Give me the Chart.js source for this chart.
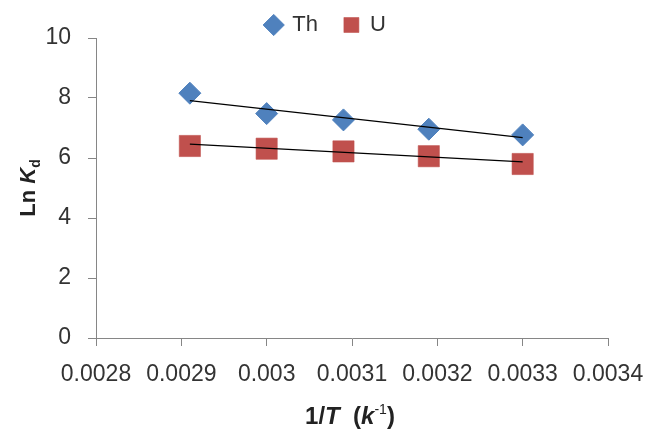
<!DOCTYPE html>
<html>
<head>
<meta charset="utf-8">
<script src="https://cdn.jsdelivr.net/npm/chart.js@4"></script>
<style>
  html, body { margin: 0; padding: 0; background: #fff; }
  #wrap { width: 646px; height: 434px; }
</style>
</head>
<body>
<div id="wrap"><canvas id="kd-chart" width="646" height="434"></canvas></div>
<script>
// 1/T values (K^-1) and Ln Kd
const invT = [0.00291, 0.003, 0.00309, 0.00319, 0.0033];
const thValues = [8.16, 7.48, 7.27, 6.96, 6.77];
const uValues = [6.40, 6.31, 6.22, 6.06, 5.80];

// linear trendline ends (first and last 1/T)
const trendX = [0.00291, 0.0033];
const thTrend = [7.91, 6.68];
const uTrend = [6.46, 5.87];

const yTicks = [0, 2, 4, 6, 8, 10];
const xTicks = [0.0028, 0.0029, 0.003, 0.0031, 0.0032, 0.0033, 0.0034];

const FONT = "'Liberation Sans', Arial, sans-serif";
const AXIS_GRAY = '#868686';

function pts(xs, ys) {
    return xs.map((x, i) => ({x: x, y: ys[i]}));
}

// axis titles need mixed bold / italic / sub and superscript
function drawRich(ctx, parts, cx, cy) {
    let total = 0;
    parts.forEach(p => { ctx.font = p.font; total += ctx.measureText(p.text).width; });
    let x = cx - total / 2;
    parts.forEach(p => {
        ctx.font = p.font;
        ctx.fillText(p.text, x, cy + (p.dy || 0));
        x += ctx.measureText(p.text).width;
    });
}

const axisTitles = {
    id: 'axisTitles',
    afterDraw(chart) {
        const ctx = chart.ctx;
        const area = chart.chartArea;
        ctx.save();
        ctx.fillStyle = '#222';
        ctx.textBaseline = 'alphabetic';
        ctx.textAlign = 'left';

        // y title: Ln K_d
        ctx.save();
        ctx.translate(35, (area.top + area.bottom) / 2);
        ctx.rotate(-Math.PI / 2);
        drawRich(ctx, [
            {text: 'Ln ', font: 'bold 22px ' + FONT},
            {text: 'K', font: 'italic bold 22px ' + FONT},
            {text: 'd', font: 'bold 14px ' + FONT, dy: 5}
        ], 0, 0);
        ctx.restore();

        // x title: 1/T (k^-1)
        drawRich(ctx, [
            {text: '1/', font: 'bold 24px ' + FONT},
            {text: 'T', font: 'italic bold 24px ' + FONT},
            {text: '  (', font: 'bold 24px ' + FONT},
            {text: 'k', font: 'italic bold 24px ' + FONT},
            {text: '-1', font: '14px ' + FONT, dy: -10},
            {text: ')', font: 'bold 24px ' + FONT}
        ], 350, 424);
        ctx.restore();
    }
};

const ctx = document.getElementById('kd-chart');
const myChart = new Chart(ctx, {
    type: 'scatter',
    data: {
        datasets: [
            {
                label: 'Th',
                data: pts(invT, thValues),
                pointStyle: 'rectRot',
                pointRadius: 11,
                pointHoverRadius: 11,
                backgroundColor: '#4F81BD',
                borderColor: '#4F81BD',
                borderWidth: 1,
                order: 2
            },
            {
                label: 'U',
                data: pts(invT, uValues),
                pointStyle: 'rect',
                pointRadius: 15,
                pointHoverRadius: 15,
                backgroundColor: '#C0504D',
                borderColor: 'rgba(192, 80, 77, 0.55)',
                borderWidth: 1,
                order: 2
            },
            {
                label: 'trend Th',
                type: 'line',
                data: pts(trendX, thTrend),
                borderColor: '#000',
                borderWidth: 1.3,
                pointRadius: 0,
                fill: false,
                order: 0
            },
            {
                label: 'trend U',
                type: 'line',
                data: pts(trendX, uTrend),
                borderColor: '#000',
                borderWidth: 1.3,
                pointRadius: 0,
                fill: false,
                order: 0
            }
        ]
    },
    options: {
        responsive: false,
        animation: false,
        layout: {
            padding: {top: -12, right: 38, bottom: 0, left: 44}
        },
        scales: {
            x: {
                type: 'linear',
                min: 0.0028,
                max: 0.0034,
                afterBuildTicks: scale => {
                    scale.ticks = xTicks.map(v => ({value: v}));
                },
                afterFit: scale => {
                    scale.height = 96;
                    scale.paddingLeft = 0;
                    scale.paddingRight = 0;
                },
                grid: {
                    drawOnChartArea: false,
                    tickLength: 8,
                    tickColor: AXIS_GRAY
                },
                border: {color: AXIS_GRAY, width: 1},
                ticks: {
                    color: '#333',
                    font: {family: FONT, size: 23},
                    padding: 15,
                    maxRotation: 0,
                    autoSkip: false,
                    callback: v => String(parseFloat(v.toFixed(4)))
                }
            },
            y: {
                min: 0,
                max: 10,
                afterBuildTicks: scale => {
                    scale.ticks = yTicks.map(v => ({value: v}));
                },
                afterFit: scale => { scale.width = 52; },
                grid: {
                    drawOnChartArea: false,
                    tickLength: 8,
                    tickColor: AXIS_GRAY
                },
                border: {color: AXIS_GRAY, width: 1},
                ticks: {
                    color: '#333',
                    font: {family: FONT, size: 23},
                    padding: 17
                }
            }
        },
        plugins: {
            legend: {
                position: 'top',
                maxHeight: 50,
                labels: {
                    usePointStyle: true,
                    boxHeight: 15,
                    boxWidth: 15,
                    padding: 26,
                    color: '#333',
                    font: {family: FONT, size: 22},
                    filter: item => item.text === 'Th' || item.text === 'U'
                }
            },
            tooltip: {enabled: false}
        }
    },
    plugins: [axisTitles]
});
</script>
</body>
</html>
